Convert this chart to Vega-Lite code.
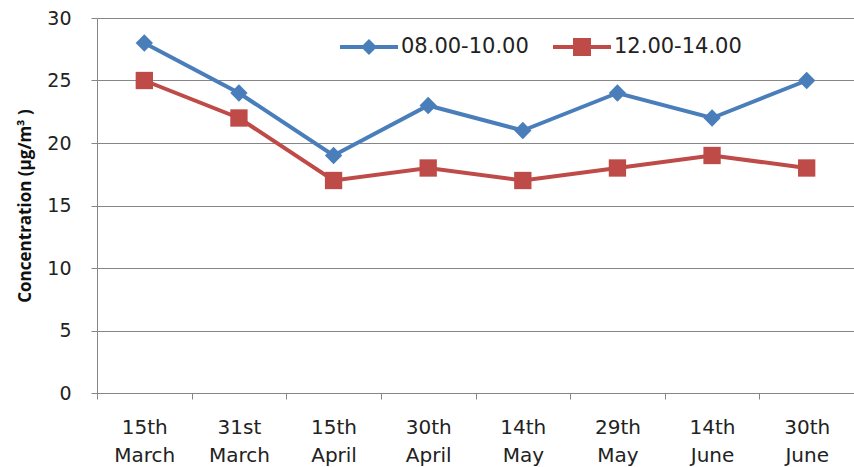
{
  "$schema": "https://vega.github.io/schema/vega-lite/v6.json",
  "width": 757,
  "height": 375,
  "autosize": {"type": "none"},
  "padding": {"left": 97, "top": 18, "right": 0, "bottom": 74},
  "background": "white",
  "config": {
    "view": {"stroke": null},
    "font": "DejaVu Sans",
    "axis": {"labelFont": "DejaVu Sans", "titleFont": "Open Sans"},
    "legend": {"labelFont": "DejaVu Sans"}
  },
  "data": {
    "values": [
      {"date": "15th March", "series": "08.00-10.00", "value": 28},
      {"date": "31st March", "series": "08.00-10.00", "value": 24},
      {"date": "15th April", "series": "08.00-10.00", "value": 19},
      {"date": "30th April", "series": "08.00-10.00", "value": 23},
      {"date": "14th May", "series": "08.00-10.00", "value": 21},
      {"date": "29th May", "series": "08.00-10.00", "value": 24},
      {"date": "14th June", "series": "08.00-10.00", "value": 22},
      {"date": "30th June", "series": "08.00-10.00", "value": 25},
      {"date": "15th March", "series": "12.00-14.00", "value": 25},
      {"date": "31st March", "series": "12.00-14.00", "value": 22},
      {"date": "15th April", "series": "12.00-14.00", "value": 17},
      {"date": "30th April", "series": "12.00-14.00", "value": 18},
      {"date": "14th May", "series": "12.00-14.00", "value": 17},
      {"date": "29th May", "series": "12.00-14.00", "value": 18},
      {"date": "14th June", "series": "12.00-14.00", "value": 19},
      {"date": "30th June", "series": "12.00-14.00", "value": 18}
    ]
  },
  "resolve": {
    "scale": {"shape": "independent"},
    "legend": {"color": "independent", "shape": "independent"}
  },
  "layer": [
    {
      "mark": {"type": "line", "strokeWidth": 4},
      "encoding": {
        "x": {
          "field": "date", "type": "nominal", "sort": null,
          "scale": {"paddingInner": 0, "paddingOuter": 0},
          "axis": {
            "title": null, "labelAngle": 0, "tickBand": "extent",
            "labelExpr": "isValid(datum.value) ? split(datum.value, ' ') : ''",
            "labelFontSize": 20, "labelColor": "#222", "labelLineHeight": 28,
            "labelPadding": 18, "domainColor": "#868686", "tickColor": "#868686",
            "tickSize": 6, "grid": false
          }
        },
        "y": {
          "field": "value", "type": "quantitative",
          "scale": {"domain": [0, 30]},
          "axis": {
            "values": [0, 5, 10, 15, 20, 25, 30],
            "title": "Concentration (µg/m³ )", "titleFontSize": 17, "titleFontWeight": "bold",
            "titleColor": "#111", "titlePadding": 12,
            "labelFontSize": 19, "labelColor": "#222", "labelPadding": 20,
            "domainColor": "#868686", "tickColor": "#868686", "tickSize": 6,
            "gridColor": "#868686", "gridWidth": 1
          }
        },
        "color": {
          "field": "series", "type": "nominal",
          "scale": {"domain": ["08.00-10.00", "12.00-14.00"], "range": ["#4a7ebb", "#be4b48"]},
          "legend": null
        }
      }
    },
    {
      "mark": {"type": "point", "filled": true, "opacity": 1, "size": 300},
      "encoding": {
        "x": {"field": "date", "type": "nominal", "sort": null},
        "y": {"field": "value", "type": "quantitative"},
        "color": {
          "field": "series", "type": "nominal",
          "legend": null
        },
        "shape": {
          "field": "series", "type": "nominal",
          "scale": {"domain": ["08.00-10.00", "12.00-14.00"], "range": ["diamond", "square"]},
          "legend": null
        }
      }
    },
    {
      "transform": [{"filter": "false"}],
      "mark": {"type": "point", "filled": true, "opacity": 1},
      "encoding": {
        "x": {"field": "date", "type": "nominal", "sort": null},
        "y": {"field": "value", "type": "quantitative"},
        "color": {
          "field": "series", "type": "nominal",
          "legend": {
            "title": null, "orient": "none", "direction": "horizontal",
            "legendX": 243, "legendY": 0, "labelFontSize": 21, "labelColor": "#222",
            "symbolSize": 3364, "symbolStrokeWidth": 0, "columnPadding": 24, "labelOffset": 3
          }
        },
        "shape": {
          "field": "series", "type": "nominal",
          "scale": {"domain": ["08.00-10.00", "12.00-14.00"], "range": ["M-1,-0.069H1V0.069H-1Z M0,-0.276L0.276,0L0,0.276L-0.276,0Z", "M-1,-0.069H1V0.069H-1Z M-0.31,-0.31H0.31V0.31H-0.31Z"]},
          "legend": {
            "title": null, "orient": "none", "direction": "horizontal",
            "legendX": 243, "legendY": 0, "labelFontSize": 21, "labelColor": "#222",
            "symbolSize": 3364, "symbolStrokeWidth": 0, "columnPadding": 24, "labelOffset": 3
          }
        }
      }
    }
  ]
}
